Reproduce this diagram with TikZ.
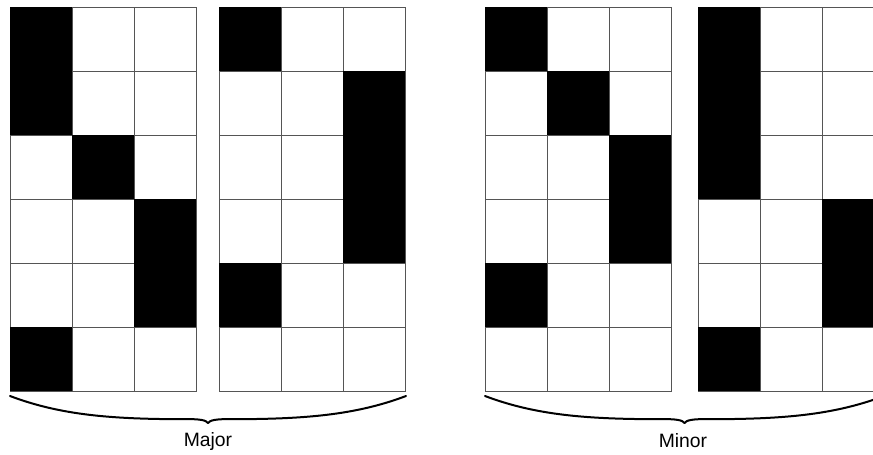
\documentclass[tikz,border=0pt]{standalone}
\usepackage{fontspec}
\setmainfont{Liberation Sans}
\usetikzlibrary{calc}
\definecolor{GridGray}{RGB}{85,85,85}

% one 3x6 block of cells, #1 = left edge, #2 = black cells as col/row
\newcommand{\blockgrid}[2]{%
  \foreach \col in {0,1,2} {
    \foreach \row in {0,...,5} {
      \draw[cell] (#1+62*\col, 7+64*\row) rectangle ++(62,64);
    }
  }
  \foreach \col/\row in {#2} {
    \fill[black] (#1+62*\col, 7+64*\row) rectangle ++(62,64);
  }
}

% wide curly brace, #1 = left end, #2 = tip, #3 = right end
\newcommand{\curlybrace}[3]{%
  \draw[bracepath] (#1) .. controls ($(#1)+(45,17)$) and ($(#1)+(90,22)$) .. ($(#1)+(150,23)$)
    -- ($(#2)+(-25,-4)$) .. controls ($(#2)+(-8,-4)$) and ($(#2)+(-2,-3)$) .. (#2)
    .. controls ($(#2)+(2,-3)$) and ($(#2)+(8,-4)$) .. ($(#2)+(25,-4)$)
    -- ($(#3)+(-150,23)$) .. controls ($(#3)+(-90,22)$) and ($(#3)+(-45,17)$) .. (#3);
}

\begin{document}
\begin{tikzpicture}[x=0.75pt, y=-0.75pt,
  cell/.style={draw=GridGray, line width=0.7pt},
  bracepath/.style={line width=1.5pt, line cap=round, line join=round},
  grouplabel/.style={font=\fontsize{14.5}{17}\selectfont}]
  \useasboundingbox (0,0) rectangle (873,454);

  % Major blocks
  \blockgrid{10}{0/0, 0/1, 1/2, 2/3, 2/4, 0/5}
  \blockgrid{219}{0/0, 2/1, 2/2, 2/3, 0/4}

  % Minor blocks
  \blockgrid{485}{0/0, 1/1, 2/2, 2/3, 0/4}
  \blockgrid{698}{0/0, 0/1, 0/2, 2/3, 2/4, 0/5}

  % braces and labels
  \coordinate (majorL) at (10,396);
  \coordinate (majorT) at (208,423);
  \coordinate (majorR) at (406,396);
  \coordinate (minorL) at (485,396);
  \coordinate (minorT) at (684.5,423);
  \coordinate (minorR) at (884,396);
  \curlybrace{majorL}{majorT}{majorR}
  \curlybrace{minorL}{minorT}{minorR}
  \node[grouplabel] (major) at (208,441) {Major};
  \node[grouplabel] (minor) at (683,441) {Minor};
\end{tikzpicture}
\end{document}
